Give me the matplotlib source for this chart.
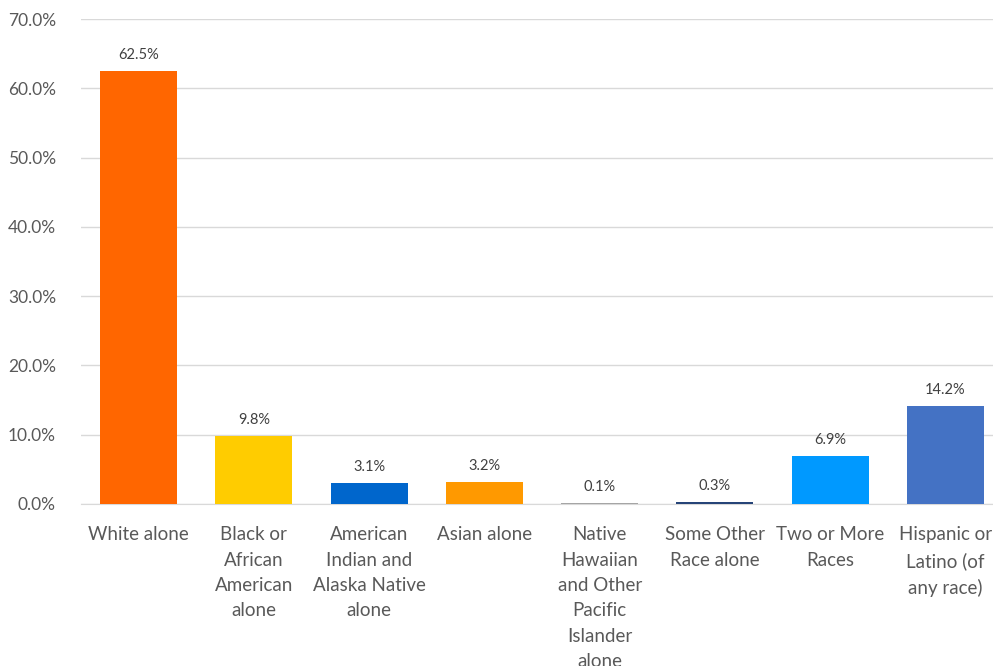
import matplotlib.pyplot as plt
from matplotlib.ticker import FuncFormatter

plt.rcParams['font.family'] = ['Lato', 'DejaVu Sans']

categories = [
    "White alone",
    "Black or\nAfrican\nAmerican\nalone",
    "American\nIndian and\nAlaska Native\nalone",
    "Asian alone",
    "Native\nHawaiian\nand Other\nPacific\nIslander\nalone",
    "Some Other\nRace alone",
    "Two or More\nRaces",
    "Hispanic or\nLatino (of\nany race)",
]
values = [62.5, 9.8, 3.1, 3.2, 0.1, 0.3, 6.9, 14.2]
colors = ["#FF6600", "#FFCC00", "#0066CC", "#FF9900", "#A5A5A5", "#264478", "#0099FF", "#4472C4"]

fig = plt.figure(figsize=(9.93, 6.66), dpi=100)
ax = fig.add_axes([81 / 993, 162 / 666, 922 / 993, 485 / 666])

x = range(len(categories))
bars = ax.bar(x, values, width=0.67, color=colors, zorder=3)

# data labels
for xi, v in zip(x, values):
    ax.text(xi, v + 1.3, f"{v:.1f}%", ha="center", va="bottom",
            fontsize=10.5, color="#404040")

ax.set_ylim(0, 70)
ax.set_xlim(-0.5, len(categories) - 0.5)
ax.set_yticks(range(0, 71, 10))
ax.yaxis.set_major_formatter(FuncFormatter(lambda v, p: f"{v:.1f}%"))
ax.set_xticks(list(x))
ax.set_xticklabels(categories, fontsize=13.5, color="#595959", linespacing=1.6)
ax.tick_params(axis="y", labelsize=12.5, labelcolor="#595959", length=0, pad=18)
ax.tick_params(axis="x", length=0, pad=16)

ax.grid(axis="y", color="#D9D9D9", linewidth=1, zorder=0)
for s in ["top", "right", "left"]:
    ax.spines[s].set_visible(False)
ax.spines["bottom"].set_color("#D9D9D9")

fig.savefig("out.png", dpi=100)
